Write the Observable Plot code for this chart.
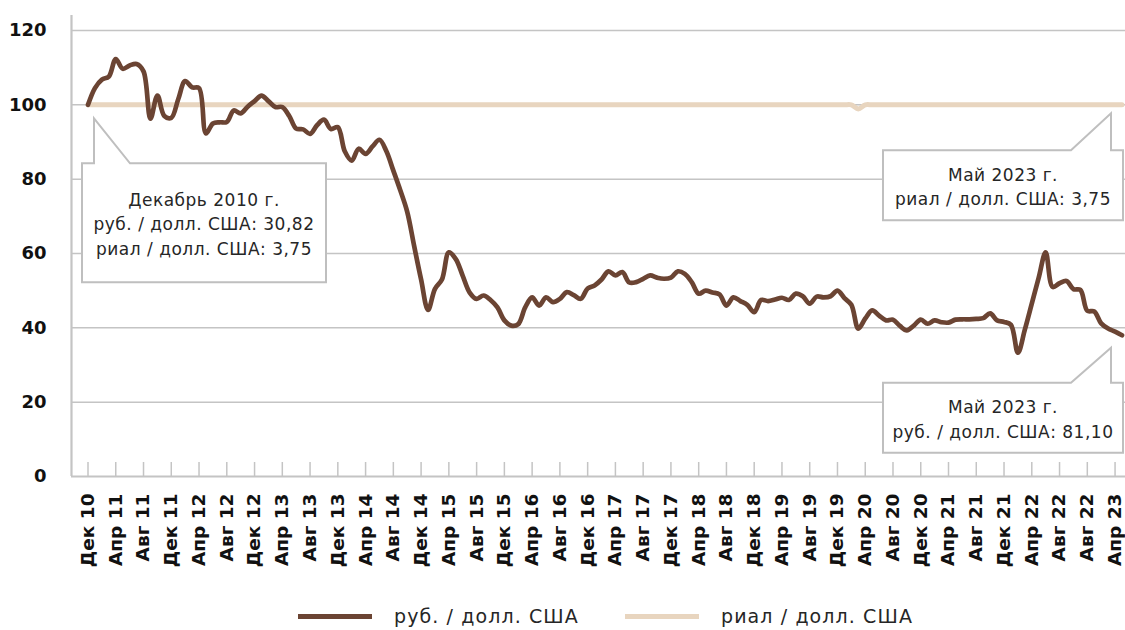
<!DOCTYPE html>
<html>
<head>
<meta charset="utf-8">
<script src="https://cdn.jsdelivr.net/npm/d3@7"></script>
<script src="https://cdn.jsdelivr.net/npm/@observablehq/plot@0.6"></script>
<style>
  html, body { margin: 0; padding: 0; background: #ffffff; }
  body { width: 1125px; height: 630px; overflow: hidden; font-family: "DejaVu Sans", sans-serif; }
  #chart svg { display: block; }
  #chart g[aria-label="xlabels"] text { letter-spacing: 2px; }
  #chart g[aria-label="ylabels"] text { letter-spacing: 0.6px; }
  #chart g.callouts text { letter-spacing: 0.5px; }
  .legend { position: relative; height: 38px; }
  .legend .item { position: absolute; top: 5px; height: 38px; display: flex; align-items: center; }
  .legend .sw { width: 74px; height: 5px; margin-right: 22px; }
  .legend .lbl { font-size: 19px; letter-spacing: 1.1px; color: #262626; white-space: nowrap; }
</style>
</head>
<body>
<div id="chart"></div>
<div class="legend" id="legend"></div>
<script>
// Index, December 2010 = 100 (monthly, Dec 2010 ... May 2023)
const rubIndex = [
  100, 104.5, 106.8, 107.6, 112.3, 109.7, 110.6, 111, 109, 96.3,
  102.5, 97, 96.5, 101.5, 106.4, 104.7, 104.5, 92.3, 95, 95.3,
  95.4, 98.5, 97.7, 99.5, 101, 102.5, 101, 99.4, 99.4, 97,
  93.6, 93.4, 92.2, 94.5, 96, 93.5, 94, 87.5, 85, 88.2,
  86.8, 88.8, 90.6, 87.5, 82.3, 77, 71.2, 62, 53, 44.8,
  50.5, 53, 60.3, 58.5, 54, 49.5, 47.8, 48.7, 47.5, 45.5,
  42, 40.6, 41, 45.5, 48.2, 46, 48.2, 46.9, 47.8, 49.6,
  48.8, 47.8, 50.6, 51.4, 53, 55.2, 54.1, 55, 52.2, 52.3,
  53.2, 54.1, 53.5, 53.2, 53.5, 55.2, 54.5, 52.3, 49.2, 50,
  49.5, 49, 46, 48.2, 47.2, 46.2, 44.2, 47.5, 47.2, 47.6,
  48.1, 47.5, 49.2, 48.5, 46.5, 48.4, 48.2, 48.5, 50, 48,
  46.2, 39.8, 42.5, 44.7, 43.3, 42, 42.2, 40.5, 39.3, 40.6,
  42.2, 41.1, 42, 41.5, 41.4, 42.2, 42.3, 42.3, 42.4, 42.6,
  43.9, 42, 41.6, 40.8, 33.3, 39.5, 46.5, 53.5, 60.3, 51,
  52, 52.6, 50.4, 50.2, 44.6, 44.4, 41.2, 39.8, 39, 38
];
const riyalIndex = [
  100, 100, 100, 100, 100, 100, 100, 100, 100, 100,
  100, 100, 100, 100, 100, 100, 100, 100, 100, 100,
  100, 100, 100, 100, 100, 100, 100, 100, 100, 100,
  100, 100, 100, 100, 100, 100, 100, 100, 100, 100,
  100, 100, 100, 100, 100, 100, 100, 100, 100, 100,
  100, 100, 100, 100, 100, 100, 100, 100, 100, 100,
  100, 100, 100, 100, 100, 100, 100, 100, 100, 100,
  100, 100, 100, 100, 100, 100, 100, 100, 100, 100,
  100, 100, 100, 100, 100, 100, 100, 100, 100, 100,
  100, 100, 100, 100, 100, 100, 100, 100, 100, 100,
  100, 100, 100, 100, 100, 100, 100, 100, 100, 100,
  100, 98.9, 100, 100, 100, 100, 100, 100, 100, 100,
  100, 100, 100, 100, 100, 100, 100, 100, 100, 100,
  100, 100, 100, 100, 100, 100, 100, 100, 100, 100,
  100, 100, 100, 100, 100, 100, 100, 100, 100, 100
];
const tickLabels = [
  "Дек 10", "Апр 11", "Авг 11", "Дек 11", "Апр 12", "Авг 12", "Дек 12", "Апр 13",
  "Авг 13", "Дек 13", "Апр 14", "Авг 14", "Дек 14", "Апр 15", "Авг 15", "Дек 15",
  "Апр 16", "Авг 16", "Дек 16", "Апр 17", "Авг 17", "Дек 17", "Апр 18", "Авг 18",
  "Дек 18", "Апр 19", "Авг 19", "Дек 19", "Апр 20", "Авг 20", "Дек 20", "Апр 21",
  "Авг 21", "Дек 21", "Апр 22", "Авг 22", "Авг 22", "Апр 23"
];
const yTicks = [0, 20, 40, 60, 80, 100, 120];
const seriesNames = ["руб. / долл. США", "риал / долл. США"];
const seriesColors = ["#6b4433", "#e8d5bf"];
const callouts = [
  {series: 0, at: 0, lines: ["Декабрь 2010 г.", "руб. / долл. США: 30,82", "риал / долл. США: 3,75"]},
  {series: 1, at: 149, lines: ["Май 2023 г.", "риал / долл. США: 3,75"]},
  {series: 0, at: 149, lines: ["Май 2023 г.", "руб. / долл. США: 81,10"]}
];
// callout geometry (pixel offsets from the annotated point): tip, pointer base, box
const calloutStyle = [
  {tip: [6.5, 14], base: [6.5, 42.5], box: [-5.5, 238.5, 59, 178]},
  {tip: [-10.5, 9], base: [-50.5, -10.5], box: [-238.5, 1.5, 46, 116]},
  {tip: [-10.5, 13], base: [-50.5, -10.5], box: [-238.5, 1.5, 48, 118]}
];

const tickPos = tickLabels.map((_, i) => i * 4);
const months = rubIndex.map((_, i) => i);
const series = [rubIndex, riyalIndex];

const H = 592;
const gridColor = "#c4c4c4";

function calloutMark(index, scales, values, dims) {
  const g = d3.create("svg:g").attr("class", "callouts");
  callouts.forEach((c, k) => {
    const s = calloutStyle[k];
    const px = scales.x(c.at), py = scales.y(series[c.series][c.at]);
    const tx = px + s.tip[0], ty = py + s.tip[1];
    const L = px + s.box[0], R = px + s.box[1], T = py + s.box[2], B = py + s.box[3];
    const bA = px + s.base[0], bB = px + s.base[1];
    const path = d3.path();
    path.moveTo(L, T); path.lineTo(bA, T); path.lineTo(tx, ty); path.lineTo(bB, T);
    path.lineTo(R, T); path.lineTo(R, B); path.lineTo(L, B); path.closePath();
    g.append("path").attr("d", path.toString())
      .attr("fill", "#ffffff").attr("stroke", "#bfbfbf").attr("stroke-width", 2)
      .attr("stroke-linejoin", "miter");
    const cx = (L + R) / 2, cy = (T + B) / 2 + 1.5;
    const n = c.lines.length, lh = 24.5;
    c.lines.forEach((t, j) => {
      g.append("text").attr("x", cx).attr("y", cy + (j - (n - 1) / 2) * lh)
        .attr("text-anchor", "middle").attr("dominant-baseline", "central")
        .attr("font-family", "DejaVu Sans").attr("font-size", 17)
        .attr("fill", "#262626").text(t);
    });
  });
  return g.node();
}

const chart = Plot.plot({
  width: 1125,
  height: H,
  marginLeft: 71,
  marginRight: 0,
  marginTop: 30,
  marginBottom: H - 476,
  x: {domain: [0, rubIndex.length - 1], insetLeft: 16.5, insetRight: 3.5, axis: null},
  y: {domain: [0, 120], axis: null},
  style: {fontFamily: "DejaVu Sans", background: "#ffffff", overflow: "visible"},
  marks: [
    Plot.ruleY(yTicks.filter(d => d > 0), {stroke: gridColor, strokeWidth: 1.5}),
    Plot.ruleY([0], {stroke: gridColor, strokeWidth: 2.2}),
    Plot.ruleX([0], {dx: -16.5, insetTop: -15, stroke: gridColor, strokeWidth: 2.2}),
    Plot.ruleX(tickPos, {x: d => d, y1: 0, y2: 0, insetBottom: 14, stroke: gridColor, strokeWidth: 1.5}),
    Plot.line(riyalIndex, {x: (d, i) => months[i], y: d => d, stroke: seriesColors[1], strokeWidth: 5, curve: "catmull-rom"}),
    Plot.line(rubIndex, {x: (d, i) => months[i], y: d => d, stroke: seriesColors[0], strokeWidth: 4.7, curve: "catmull-rom", strokeLinecap: "round", strokeLinejoin: "round"}),
    calloutMark,
    Plot.text(yTicks, {frameAnchor: "left", y: d => d, text: d => String(d), textAnchor: "end", dx: -25, fontWeight: "bold", fontSize: 18, fill: "#111", ariaLabel: "ylabels"}),
    Plot.text(tickPos, {x: d => d, y: 0, text: (d, i) => tickLabels[i], rotate: -90, textAnchor: "end", lineAnchor: "middle", dy: 17, fontWeight: "bold", fontSize: 18.5, fill: "#111", ariaLabel: "xlabels"})
  ]
});
document.getElementById("chart").appendChild(chart);

// Legend
const legend = document.getElementById("legend");
const legendLeft = [298, 625];
seriesNames.forEach((name, i) => {
  const item = document.createElement("div");
  item.className = "item";
  item.style.left = legendLeft[i] + "px";
  const sw = document.createElement("span");
  sw.className = "sw";
  sw.style.background = seriesColors[i];
  const lbl = document.createElement("span");
  lbl.className = "lbl";
  lbl.textContent = name;
  item.appendChild(sw); item.appendChild(lbl);
  legend.appendChild(item);
});
</script>
</body>
</html>
